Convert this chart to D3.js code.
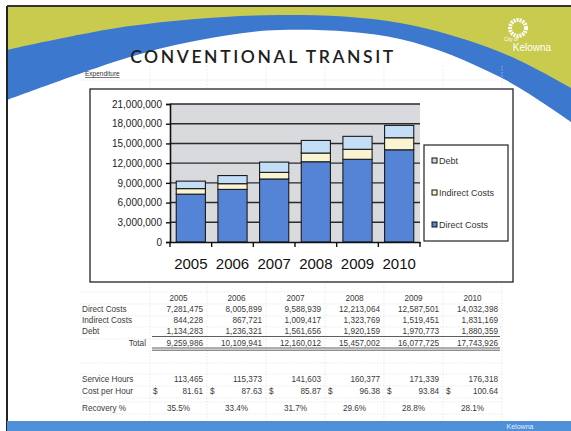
<!DOCTYPE html>
<html><head><meta charset="utf-8">
<script src="https://cdn.jsdelivr.net/npm/d3@7"></script>
<style>html,body{margin:0;padding:0;background:#fff;}svg{display:block;}</style>
</head><body><svg id="c" width="571" height="431"></svg>
<script>
const years = ["2005","2006","2007","2008","2009","2010"];
const directCosts   = [7281475, 8005899, 9588939, 12213064, 12587501, 14032398];
const indirectCosts = [844228, 867721, 1009417, 1323769, 1519451, 1831169];
const debt          = [1134283, 1236321, 1561656, 1920159, 1970773, 1880359];
const totals        = [9259986, 10109941, 12160012, 15457002, 16077725, 17743926];
const serviceHours  = [113465, 115373, 141603, 160377, 171339, 176318];
const costPerHour   = [81.61, 87.63, 85.87, 96.38, 93.84, 100.64];
const recovery      = ["35.5%","33.4%","31.7%","29.6%","28.8%","28.1%"];
const yTicks = [0,3000000,6000000,9000000,12000000,15000000,18000000,21000000];
const seriesNames = ["Direct Costs","Indirect Costs","Debt"];
const seriesKeys = ["direct","indirect","debt"];

const svg = d3.select("#c");
const fmt = d3.format(",");

// ---------- slide background ----------
svg.append("rect").attr("x",7).attr("y",6).attr("width",564).attr("height",425).attr("fill","#c9cb4e");
const curve = d3.line().curve(d3.curveCatmullRom);
const outerPts = [[7,50],[130,26],[280,15],[400,23],[500,52],[571,88]];
const innerPts = [[7,100],[130,57],[200,40],[280,30],[400,39],[500,77],[571,122]];
svg.append("path").attr("d", curve(outerPts) + "L571,431L7,431Z").attr("fill","#3d78cf");
svg.append("path").attr("d", curve(innerPts) + "L571,431L7,431Z").attr("fill","#ffffff");
// frame
svg.append("line").attr("x1",7).attr("x2",7).attr("y1",6).attr("y2",431).attr("stroke","#222").attr("stroke-width",2);
svg.append("line").attr("x1",7).attr("x2",571).attr("y1",6).attr("y2",6).attr("stroke","#333").attr("stroke-width",2);

// logo
svg.append("circle").attr("cx",518).attr("cy",28).attr("r",8).attr("fill","none").attr("stroke","#fff").attr("stroke-width",4).attr("stroke-dasharray","2,1");
svg.append("text").attr("x",504).attr("y",41).attr("font-family","Liberation Sans").attr("font-size",5).attr("fill","#fff").text("City of");
svg.append("text").attr("x",532).attr("y",51).attr("text-anchor","middle").attr("font-family","Liberation Sans").attr("font-size",10).attr("fill","#fff").text("Kelowna");

// bottom bar
svg.append("rect").attr("x",7).attr("y",421).attr("width",564).attr("height",10).attr("fill","#4d8fd8");
svg.append("text").attr("x",520).attr("y",429).attr("text-anchor","middle").attr("font-family","Liberation Sans").attr("font-size",7).attr("fill","#e8f0ff").text("Kelowna");

// title
svg.append("text").attr("x",263).attr("y",63).attr("text-anchor","middle")
  .attr("font-family","Lato, 'DejaVu Sans'").attr("font-size",17.5).attr("font-weight",600)
  .attr("letter-spacing",2.6).attr("fill","#1e1e1e").text("CONVENTIONAL TRANSIT");
svg.append("text").attr("x",85).attr("y",76).attr("font-family","Liberation Sans").attr("font-size",6.5)
  .attr("text-decoration","underline").attr("fill","#333").text("Expenditure");

// faint spreadsheet gridlines
const colEdges = [150, 207, 266, 325, 384, 443, 502];
const gridG = svg.append("g").attr("stroke","#dcdcdc").attr("stroke-width",0.6).attr("stroke-dasharray","1.5,1.5");
colEdges.forEach(x=>{
  gridG.append("line").attr("x1",x).attr("x2",x).attr("y1",66).attr("y2",88);
  gridG.append("line").attr("x1",x).attr("x2",x).attr("y1",284).attr("y2",420);
});
[80,292,304,316,327,339,363,374,386,398,402,414].forEach(y=>{
  gridG.append("line").attr("x1",80).attr("x2",502).attr("y1",y).attr("y2",y);
});

// ---------- chart box ----------
svg.append("rect").attr("x",90).attr("y",89).attr("width",423).attr("height",193)
  .attr("fill","#fff").attr("stroke","#222").attr("stroke-width",1.3);

const plotL = 170, plotR = 420, plotT = 104, plotB = 242;
const x = d3.scaleBand().domain(years).range([plotL, plotR]).paddingInner(0.3).paddingOuter(0.15);
const y = d3.scaleLinear().domain([0, 21000000]).range([plotB, plotT]);

svg.append("rect").attr("x",plotL).attr("y",plotT).attr("width",plotR-plotL).attr("height",plotB-plotT).attr("fill","#d8dadd");
// gridlines
svg.append("g").selectAll("line").data(yTicks.filter(d=>d>0)).join("line")
  .attr("x1",plotL).attr("x2",plotR).attr("y1",d=>y(d)).attr("y2",d=>y(d))
  .attr("stroke","#2a2a2a").attr("stroke-width",1.4);

// stacked bars
const rows = years.map((yr,i)=>({year:yr, direct:directCosts[i], indirect:indirectCosts[i], debt:debt[i]}));
const stack = d3.stack().keys(seriesKeys)(rows);
const colors = {direct:"#5584d6", indirect:"#fbf4d2", debt:"#c5def7"};
svg.append("g").selectAll("g").data(stack).join("g").attr("fill",d=>colors[d.key])
  .selectAll("rect").data(d=>d).join("rect")
  .attr("x",d=>x(d.data.year)).attr("width",x.bandwidth())
  .attr("y",d=>y(d[1])).attr("height",d=>y(d[0])-y(d[1]))
  .attr("stroke","#1a1a1a").attr("stroke-width",1.1);

// axes
const yAxis = d3.axisLeft(y).tickValues(yTicks).tickFormat(fmt).tickSize(4).tickPadding(4);
const ga = svg.append("g").attr("transform",`translate(${plotL},0)`).call(yAxis);
ga.select(".domain").attr("stroke","#111").attr("stroke-width",1.6);
ga.selectAll(".tick line").attr("stroke","#111").attr("stroke-width",1.4);
ga.selectAll("text").attr("font-family","Liberation Sans").attr("font-size",10).attr("fill","#222");

const xb = d3.scaleBand().domain(years).range([plotL, plotR]);
const gx = svg.append("g").attr("transform",`translate(0,${plotB})`)
  .call(d3.axisBottom(xb).tickSize(0).tickPadding(16));
gx.select(".domain").attr("stroke","#111").attr("stroke-width",1.6);
gx.selectAll("text").attr("font-family","Liberation Sans").attr("font-size",15).attr("fill","#111");
// category boundary ticks
svg.append("g").selectAll("line").data(years.concat(["end"])).join("line")
  .attr("x1",(d,i)=> i<years.length ? xb(d) : plotR).attr("x2",(d,i)=> i<years.length ? xb(d) : plotR)
  .attr("y1",plotB).attr("y2",plotB+5).attr("stroke","#111").attr("stroke-width",1.4);

// legend
svg.append("rect").attr("x",424).attr("y",145).attr("width",84).attr("height",96)
  .attr("fill","#fff").attr("stroke","#222").attr("stroke-width",1.2);
const legOrder = [2,1,0];
const lg = svg.append("g").selectAll("g").data(legOrder).join("g")
  .attr("transform",(d,i)=>`translate(432,${158+i*32})`);
lg.append("rect").attr("width",5).attr("height",5).attr("fill",d=>colors[seriesKeys[d]]).attr("stroke","#111").attr("stroke-width",1);
lg.append("text").attr("x",7).attr("y",5.5).attr("font-family","Liberation Sans").attr("font-size",9).attr("fill","#333")
  .text(d=>seriesNames[d]);

// ---------- table ----------
const tf = "Liberation Sans";
const tcol = "#3a3a3a";
const tsize = 8.2;
const colRight = i => colEdges[i+1] - 4;
const colMid = i => (colEdges[i] + colEdges[i+1]) / 2;
const T = svg.append("g").attr("font-family",tf).attr("font-size",tsize).attr("fill",tcol);
// headers
T.selectAll(".hdr").data(years).join("text").attr("x",(d,i)=>colMid(i)).attr("y",301).attr("text-anchor","middle").text(d=>d);
const valRows = [
  {label:"Direct Costs", vals:directCosts, y:312},
  {label:"Indirect Costs", vals:indirectCosts, y:323},
  {label:"Debt", vals:debt, y:334},
];
valRows.forEach(r=>{
  T.append("text").attr("x",82).attr("y",r.y).text(r.label);
  T.selectAll(null).data(r.vals).join("text").attr("x",(d,i)=>colRight(i)).attr("y",r.y).attr("text-anchor","end").text(d=>fmt(d));
});
T.append("text").attr("x",146).attr("y",346).attr("text-anchor","end").text("Total");
T.selectAll(null).data(totals).join("text").attr("x",(d,i)=>colRight(i)).attr("y",346).attr("text-anchor","end").text(d=>fmt(d));
// underlines
const ul = svg.append("g").attr("stroke","#333").attr("stroke-width",0.8);
ul.append("line").attr("x1",colEdges[0]+2).attr("x2",colEdges[6]-2).attr("y1",336.5).attr("y2",336.5);
ul.append("line").attr("x1",colEdges[0]+2).attr("x2",colEdges[6]-2).attr("y1",348).attr("y2",348);
ul.append("line").attr("x1",colEdges[0]+2).attr("x2",colEdges[6]-2).attr("y1",350.2).attr("y2",350.2);

T.append("text").attr("x",82).attr("y",382).text("Service Hours");
T.selectAll(null).data(serviceHours).join("text").attr("x",(d,i)=>colRight(i)).attr("y",382).attr("text-anchor","end").text(d=>fmt(d));
T.append("text").attr("x",82).attr("y",394).text("Cost per Hour");
T.selectAll(null).data(costPerHour).join("text").attr("x",(d,i)=>colEdges[i]+3).attr("y",394).text("$");
T.selectAll(null).data(costPerHour).join("text").attr("x",(d,i)=>colRight(i)).attr("y",394).attr("text-anchor","end").text(d=>d3.format(".2f")(d));
T.append("text").attr("x",82).attr("y",411).text("Recovery %");
T.selectAll(null).data(recovery).join("text").attr("x",(d,i)=>colMid(i)).attr("y",411).attr("text-anchor","middle").text(d=>d);
</script></body></html>
